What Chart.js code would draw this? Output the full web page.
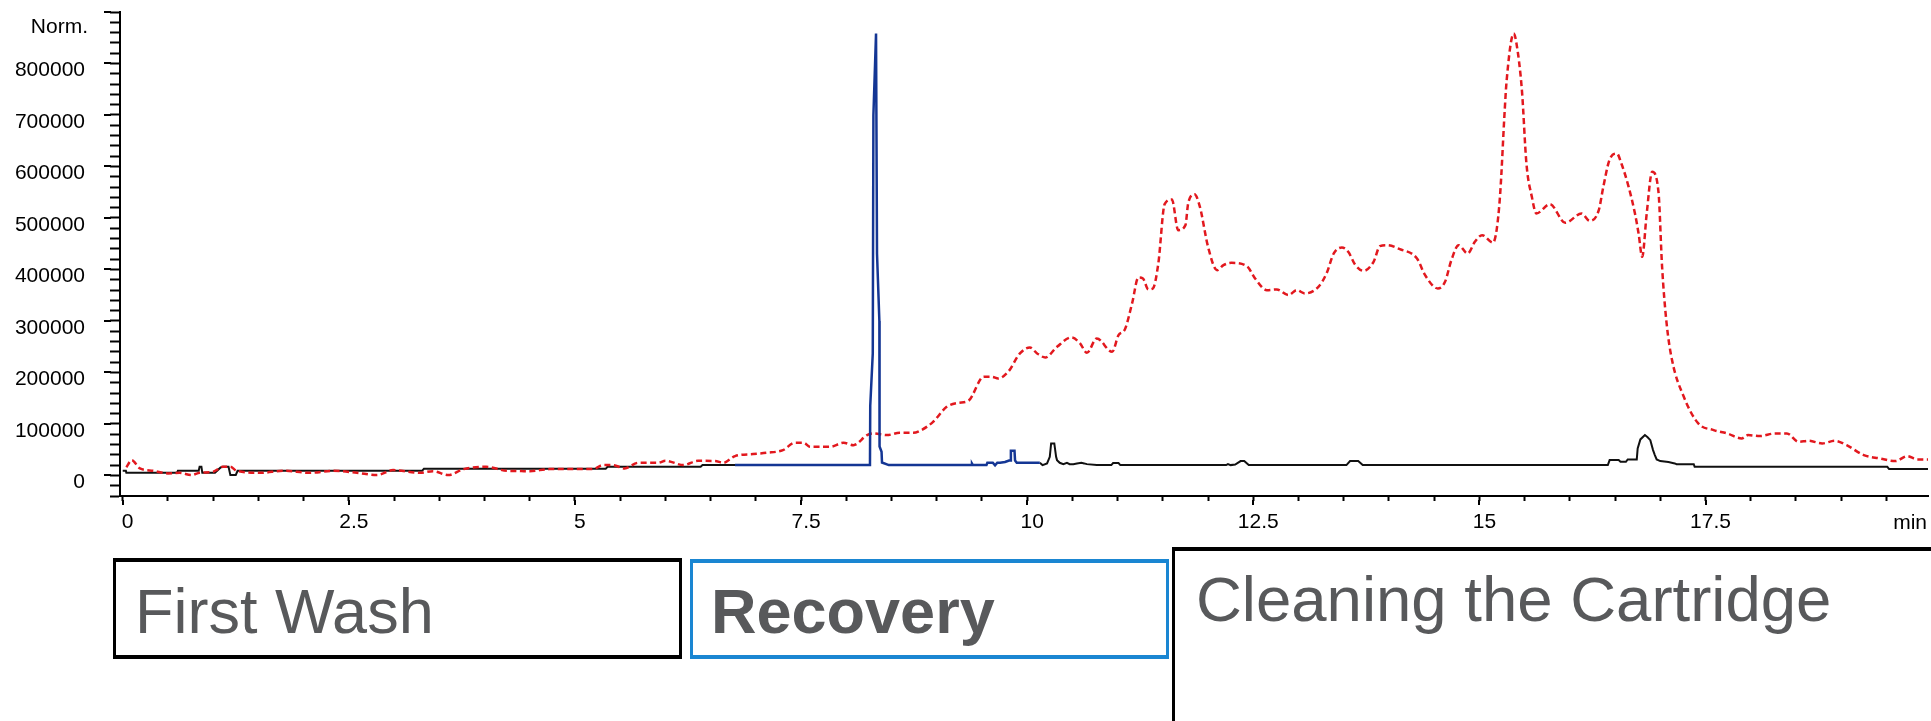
<!DOCTYPE html>
<html>
<head>
<meta charset="utf-8">
<title>SPE cartridge chromatogram</title>
<script src="https://cdn.jsdelivr.net/npm/chart.js@4.4.1/dist/chart.umd.min.js"></script>
<style>
  html, body { margin: 0; padding: 0; background: #fff; overflow: hidden; }
  #wrap { position: relative; width: 1931px; height: 721px; }
  #chart { position: absolute; left: 0; top: 0; }
  .phase { position: absolute; box-sizing: border-box; }
  .phase-text {
    position: absolute;
    font-family: 'Liberation Sans', Arial, Helvetica, sans-serif;
    font-size: 63px;
    line-height: 63px;
    color: #58595b;
    white-space: nowrap;
  }
</style>
</head>
<body>
<div id="wrap">
  <canvas id="chart" width="1931" height="721"></canvas>
  <div class="phase" style="left:113px; top:558px; width:569px; height:101px; border-style:solid; border-color:#000; border-width:4px 3px;"></div>
  <div class="phase" style="left:690px; top:559px; width:479px; height:100px; border-style:solid; border-color:#1a86d2; border-width:4px 3px;"></div>
  <div class="phase" style="left:1172px; top:547px; width:900px; height:300px; border-style:solid; border-color:#000; border-width:4px 0 0 3px;"></div>
  <div class="phase-text" id="p0" style="left:135px; top:580px;"></div>
  <div class="phase-text" id="p1" style="left:711px; top:580px; font-weight:bold;"></div>
  <div class="phase-text" id="p2" style="left:1196px; top:568px; font-size:63.5px;"></div>
</div>
<script>
// Run phases shown under the time axis
const phaseNames = ['First Wash', 'Recovery', 'Cleaning the Cartridge'];

// Axis labelling
const yUnit = 'Norm.';
const xUnit = 'min';
const yLabelValues = [0, 100000, 200000, 300000, 400000, 500000, 600000, 700000, 800000];
const yLongTickValues = [0, 100000, 200000, 300000, 400000, 500000, 600000, 700000, 800000, 900000];
const xLabelValues = [0, 2.5, 5, 7.5, 10, 12.5, 15, 17.5];

// Black trace, wash segment (min, signal)
const washTime = [0, 0.035, 0.04, 0.60, 0.61, 0.84, 0.85, 0.87, 0.88, 1.02,
                  1.08, 1.10, 1.17, 1.19, 1.25, 1.27, 3.31, 3.33, 5.34, 5.36,
                  6.39, 6.41, 6.77];
const washSignal = [8900, 8900, 5000, 5000, 8900, 8900, 16700, 16700, 5000, 5000,
                    15000, 16700, 16700, 1000, 1000, 8900, 8900, 12800, 12800, 16700,
                    16700, 20000, 20000];

// Blue trace, recovery segment
const recoveryTime = [6.77, 8.262, 8.265, 8.293, 8.300, 8.329, 8.340, 8.366, 8.368, 8.390,
                      8.395, 8.470, 9.380, 9.390, 9.400, 9.550, 9.560, 9.620, 9.645, 9.670,
                      9.700, 9.755, 9.800, 9.815, 9.820, 9.860, 9.866, 9.885, 10.140];
const recoverySignal = [20000, 20000, 135000, 237000, 700000, 858000, 430000, 300000, 56000, 46000,
                        25000, 20000, 20000, 23000, 20000, 20000, 24500, 24500, 19500, 24500,
                        24500, 26000, 29000, 29000, 47800, 47800, 29000, 24500, 24500];

// Black trace, cleaning segment
const cleanTime = [10.14, 10.17, 10.22, 10.25, 10.265, 10.30, 10.32, 10.33, 10.36, 10.40,
                   10.44, 10.47, 10.51, 10.55, 10.60, 10.63, 10.66, 10.77, 10.93, 10.95,
                   11.01, 11.03, 12.20, 12.22, 12.25, 12.30, 12.36, 12.40, 12.45, 13.53,
                   13.57, 13.66, 13.71, 16.42, 16.44, 16.54, 16.56, 16.62, 16.64, 16.74,
                   16.75, 16.78, 16.83, 16.86, 16.89, 16.92, 16.94, 16.96, 17.00, 17.09,
                   17.16, 17.18, 17.37, 17.38, 19.51, 19.53, 19.96];
const cleanSignal = [24500, 20000, 23300, 36100, 62100, 62100, 36100, 29700, 24500, 21900,
                     24500, 21900, 21900, 23300, 24500, 23300, 21900, 20000, 20000, 24000,
                     24000, 20000, 20000, 22000, 20000, 21000, 27800, 27800, 20000, 20000,
                     27800, 27800, 20000, 20000, 29700, 29700, 26400, 26400, 31100, 31100,
                     52400, 69900, 78300, 74000, 68500, 49100, 39400, 31100, 27800, 26000,
                     23300, 21900, 21900, 16700, 16700, 12200, 12200];

// Red dashed trace over the whole run
const ticTime = [0.04, 0.10, 0.19, 0.34, 0.50, 0.63, 0.76, 0.85, 1.00, 1.11,
                 1.19, 1.26, 1.52, 1.78, 2.07, 2.33, 2.59, 2.81, 2.99, 3.29,
                 3.43, 3.60, 3.77, 4.02, 4.25, 4.50, 4.72, 4.98, 5.20, 5.31,
                 5.42, 5.55, 5.70, 5.92, 6.00, 6.20, 6.36, 6.55, 6.64, 6.77,
                 6.97, 7.12, 7.30, 7.43, 7.53, 7.60, 7.82, 7.97, 8.08, 8.23,
                 8.30, 8.45, 8.59, 8.74, 8.83, 8.96, 9.11, 9.24, 9.35, 9.52,
                 9.61, 9.68, 9.79, 9.92, 10.03, 10.11, 10.20, 10.33, 10.49, 10.585,
                 10.66, 10.77, 10.94, 11.01, 11.08, 11.16, 11.23, 11.28, 11.34, 11.39,
                 11.45, 11.52, 11.60, 11.67, 11.75, 11.78, 11.85, 11.91, 12.00, 12.10,
                 12.17, 12.26, 12.43, 12.52, 12.65, 12.76, 12.89, 12.98, 13.07, 13.22,
                 13.31, 13.39, 13.48, 13.55, 13.63, 13.72, 13.83, 13.90, 13.98, 14.12,
                 14.31, 14.40, 14.54, 14.62, 14.69, 14.77, 14.87, 14.95, 15.03, 15.15,
                 15.19, 15.23, 15.28, 15.30, 15.38, 15.41, 15.47, 15.52, 15.58, 15.63,
                 15.78, 15.95, 16.13, 16.22, 16.32, 16.37, 16.44, 16.52, 16.57, 16.65,
                 16.72, 16.76, 16.80, 16.85, 16.91, 16.98, 17.02, 17.07, 17.13, 17.26,
                 17.42, 17.59, 17.74, 17.90, 17.97, 18.10, 18.27, 18.40, 18.53, 18.64,
                 18.79, 18.93, 19.06, 19.25, 19.43, 19.60, 19.73, 19.84, 19.96];
const ticSignal = [16000, 29700, 13600, 8900, 3900, 5000, 600, 5000, 7000, 16700,
                   16700, 8900, 5000, 8900, 5000, 8900, 5000, 600, 10300, 5000,
                   8300, 600, 12200, 16700, 8900, 8300, 12200, 12200, 12200, 20000,
                   20000, 13600, 24500, 24500, 28400, 20000, 28400, 28000, 24500, 37500,
                   41400, 43900, 49100, 63300, 63300, 55500, 55500, 63300, 58800, 78300,
                   81500, 78300, 82700, 82700, 88000, 104000, 133200, 141000, 144900, 191500,
                   191500, 188300, 201200, 236900, 248500, 236900, 229100, 249700, 268000, 256300,
                   238100, 266000, 240000, 272400, 283500, 334000, 384500, 382500, 361200, 363100,
                   411600, 526800, 535900, 476300, 486000, 528100, 546200, 521500, 443900, 398600,
                   408300, 412800, 406400, 382500, 359800, 361200, 350100, 359800, 353400, 366200,
                   392200, 431000, 442700, 434200, 408300, 397300, 414800, 445200, 447200, 439400,
                   421300, 388900, 363100, 376000, 418000, 447200, 431000, 453600, 466600, 452000,
                   476000, 547600, 709300, 764300, 858200, 838800, 748100, 605800, 541000, 508700,
                   526800, 490500, 508700, 494400, 515100, 560400, 613600, 625200, 605800, 560400,
                   508700, 469900, 424500, 508700, 589500, 550700, 405000, 295100, 223900, 152600,
                   101000, 88000, 81500, 71800, 78300, 76300, 81500, 81500, 65200, 67200,
                   62100, 67200, 58800, 39400, 33000, 27800, 37500, 31100, 31100];

phaseNames.forEach((name, i) => { document.getElementById('p' + i).textContent = name; });

const toPoints = (ts, vs) => ts.map((t, i) => ({ x: t, y: vs[i] }));
const FONT = "'Liberation Sans', Arial, Helvetica, sans-serif";
const near = (a, b) => Math.abs(a - b) < 1e-6;

// Longer marks at labelled positions, plus the unit captions
const axisDecor = {
  id: 'axisDecor',
  afterDraw(chart) {
    const { ctx, scales: { x, y } } = chart;
    ctx.save();
    ctx.strokeStyle = '#000';
    ctx.lineWidth = 2;
    ctx.beginPath();
    yLongTickValues.forEach(v => {
      const py = Math.round(y.getPixelForValue(v));
      ctx.moveTo(x.left - 16, py);
      ctx.lineTo(x.left - 9, py);
    });
    xLabelValues.forEach(v => {
      const px = Math.round(x.getPixelForValue(v));
      ctx.moveTo(px, y.bottom + 4);
      ctx.lineTo(px, y.bottom + 9);
    });
    ctx.stroke();
    ctx.fillStyle = '#000';
    ctx.font = '21px ' + FONT;
    ctx.textAlign = 'right';
    ctx.textBaseline = 'middle';
    ctx.fillText(yUnit, 88, y.getPixelForValue(900000) + 15);
    ctx.fillText(xUnit, x.right - 1, y.bottom + 27);
    ctx.restore();
  }
};

new Chart(document.getElementById('chart'), {
  type: 'line',
  data: {
    datasets: [
      { label: phaseNames[1], data: toPoints(recoveryTime, recoverySignal),
        borderColor: 'rgb(20, 54, 148)', borderWidth: 2.5, pointRadius: 0, tension: 0, order: 0 },
      { label: 'TIC', data: toPoints(ticTime, ticSignal),
        borderColor: 'rgb(226, 24, 30)', borderWidth: 2.5, borderDash: [6, 3.5],
        pointRadius: 0, cubicInterpolationMode: 'monotone', order: 1 },
      { label: phaseNames[0], data: toPoints(washTime, washSignal),
        borderColor: '#111', borderWidth: 2, pointRadius: 0, tension: 0, order: 2 },
      { label: phaseNames[2], data: toPoints(cleanTime, cleanSignal),
        borderColor: '#111', borderWidth: 2, pointRadius: 0, tension: 0, order: 2 }
    ]
  },
  options: {
    responsive: false,
    animation: false,
    devicePixelRatio: 1,
    events: [],
    layout: { padding: { left: 0, right: 3, top: 12, bottom: 0 } },
    plugins: { legend: { display: false }, tooltip: { enabled: false } },
    scales: {
      x: {
        type: 'linear',
        min: -0.03,
        max: 19.96,
        grid: { display: true, drawOnChartArea: false, drawTicks: true, tickLength: 5, tickWidth: 2, tickColor: '#000' },
        border: { display: true, color: '#000', width: 2 },
        ticks: {
          stepSize: 0.5,
          includeBounds: false,
          autoSkip: false,
          maxRotation: 0,
          minRotation: 0,
          padding: 9,
          labelOffset: 5,
          color: '#000',
          font: { family: FONT, size: 21 },
          callback: v => (xLabelValues.some(l => near(l, v)) ? String(v) : '')
        },
        afterFit(scale) { scale.height = 225; scale.paddingLeft = 0; scale.paddingRight = 0; }
      },
      y: {
        type: 'linear',
        min: -40000,
        max: 900000,
        grid: { display: true, drawOnChartArea: false, drawTicks: true, tickLength: 10, tickWidth: 2, tickColor: '#000' },
        border: { display: true, color: '#000', width: 2 },
        ticks: {
          stepSize: 20000,
          autoSkip: false,
          padding: 25,
          labelOffset: 7,
          color: '#000',
          font: { family: FONT, size: 21 },
          callback: v => (yLabelValues.includes(v) ? String(v) : '')
        },
        afterFit(scale) { scale.width = 120; scale.paddingTop = 0; scale.paddingBottom = 0; }
      }
    }
  },
  plugins: [axisDecor]
});
</script>
</body>
</html>
